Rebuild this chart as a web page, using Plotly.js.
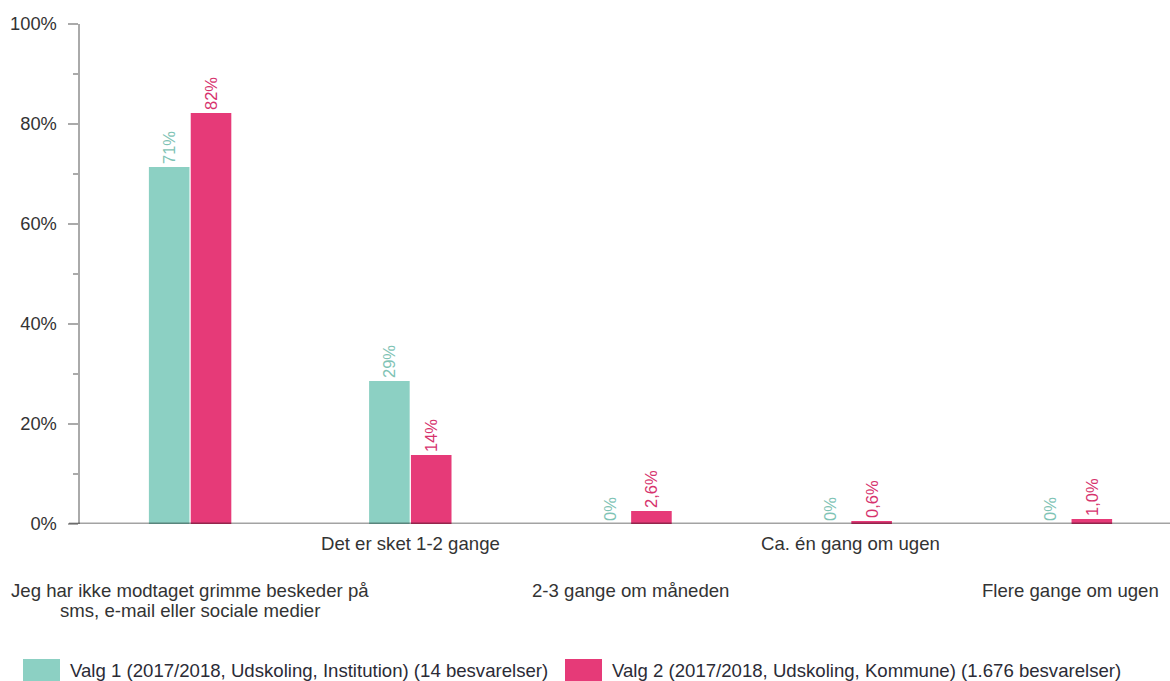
<!DOCTYPE html>
<html>
<head>
<meta charset="utf-8">
<script src="https://cdn.plot.ly/plotly-3.0.1.min.js"></script>
<style>
  html, body { margin: 0; padding: 0; background: #ffffff; }
  #chart { width: 1170px; height: 681px; }
</style>
</head>
<body>
<div id="chart"></div>
<script>
// ---- Data ----
const categories = [
  "Jeg har ikke modtaget grimme beskeder på<br>sms, e-mail eller sociale medier",
  "Det er sket 1-2 gange",
  "2-3 gange om måneden",
  "Ca. én gang om ugen",
  "Flere gange om ugen"
];
const seriesNames = [
  "Valg 1 (2017/2018, Udskoling, Institution) (14 besvarelser)",
  "Valg 2 (2017/2018, Udskoling, Kommune) (1.676 besvarelser)"
];
const valg1Values = [71.4, 28.6, 0, 0, 0];
const valg2Values = [82.2, 13.8, 2.6, 0.6, 1.0];
const valg1Labels = ["71%", "29%", "0%", "0%", "0%"];
const valg2Labels = ["82%", "14%", "2,6%", "0,6%", "1,0%"];
const yTickVals = [0, 20, 40, 60, 80, 100];
const yTickText = ["0%", "20%", "40%", "60%", "80%", "100%"];

// ---- Style ----
const FONT = '"Liberation Sans", Arial, Helvetica, sans-serif';
const TEAL = "#8cd0c3";
const PINK = "#e63a78";
const TEAL_TXT = "#7fc3b5";
const PINK_TXT = "#d6336e";
const AXIS_GREY = "#aaaaaa";

// plot area in pixels
const M = { l: 80, r: 0, t: 24, b: 157 };
const W = 1170, H = 681;
const PW = W - M.l - M.r, PH = H - M.t - M.b;
const px = x => (x - M.l) / PW;
const py = y => (H - M.b - y) / PH;

const traces = [
  {
    type: "bar", name: seriesNames[0], x: categories, y: valg1Values,
    text: valg1Labels, textposition: "outside", textangle: -90,
    textfont: { family: FONT, size: 16.5, color: TEAL_TXT },
    marker: { color: TEAL }, cliponaxis: false, hoverinfo: "skip", showlegend: false
  },
  {
    type: "bar", name: seriesNames[1], x: categories, y: valg2Values,
    text: valg2Labels, textposition: "outside", textangle: -90,
    textfont: { family: FONT, size: 16.5, color: PINK_TXT },
    marker: { color: PINK }, cliponaxis: false, hoverinfo: "skip", showlegend: false
  }
];

// category labels, staggered in two rows
const annotations = [];
const rowCenter = [590, 543]; // pixel y centres for row 2 / row 1
categories.forEach((c, i) => {
  const lines = c.split("<br>");
  const base = (i % 2 === 0) ? rowCenter[0] : rowCenter[1];
  lines.forEach((ln, k) => {
    annotations.push({
      xref: "x", yref: "paper", x: c, y: py(base + k * 20),
      text: ln, showarrow: false, xanchor: "center", yanchor: "middle",
      font: { family: FONT, size: 18.6, color: "#333333" }
    });
  });
});

// custom legend
const legendItems = [
  { x0: 23, x1: 60, tx: 68, color: TEAL, name: seriesNames[0] },
  { x0: 565, x1: 602, tx: 610, color: PINK, name: seriesNames[1] }
];
const shapes = [];
legendItems.forEach(it => {
  shapes.push({
    type: "rect", xref: "paper", yref: "paper",
    x0: px(it.x0), x1: px(it.x1), y0: py(659), y1: py(683),
    fillcolor: it.color, line: { width: 0 }
  });
  annotations.push({
    xref: "paper", yref: "paper", x: px(it.tx), y: py(670),
    text: it.name, showarrow: false, xanchor: "left", yanchor: "middle",
    font: { family: FONT, size: 18.6, color: "#2b2b36" }
  });
});

// zero line drawn above the bars
shapes.push({
  type: "line", xref: "paper", yref: "y", layer: "above",
  x0: px(69), x1: 1.05, y0: 0, y1: 0,
  line: { color: "rgba(0,0,0,0.36)", width: 3 }
});

const layout = {
  width: W, height: H,
  margin: M,
  paper_bgcolor: "#ffffff", plot_bgcolor: "#ffffff",
  font: { family: FONT, size: 18, color: "#333333" },
  barmode: "group", bargap: 0.62, bargroupgap: 0.03,
  showlegend: false,
  xaxis: {
    type: "category", range: [-0.5, 4.45],
    showticklabels: false, ticks: "", showgrid: false, zeroline: false, showline: false,
    fixedrange: true
  },
  yaxis: {
    range: [0, 100], tickvals: yTickVals, ticktext: yTickText,
    ticks: "outside", ticklen: 10, tickwidth: 2, tickcolor: AXIS_GREY,
    ticklabelstandoff: 7,
    minor: { dtick: 10, ticks: "outside", ticklen: 5, tickwidth: 2, tickcolor: AXIS_GREY, showgrid: false },
    showline: true, linecolor: AXIS_GREY, linewidth: 2.5,
    showgrid: false, zeroline: false,
    tickfont: { family: FONT, size: 18.3, color: "#333333" },
    fixedrange: true
  },
  annotations: annotations,
  shapes: shapes
};

Plotly.newPlot("chart", traces, layout, { staticPlot: true, displayModeBar: false });
</script>
</body>
</html>
